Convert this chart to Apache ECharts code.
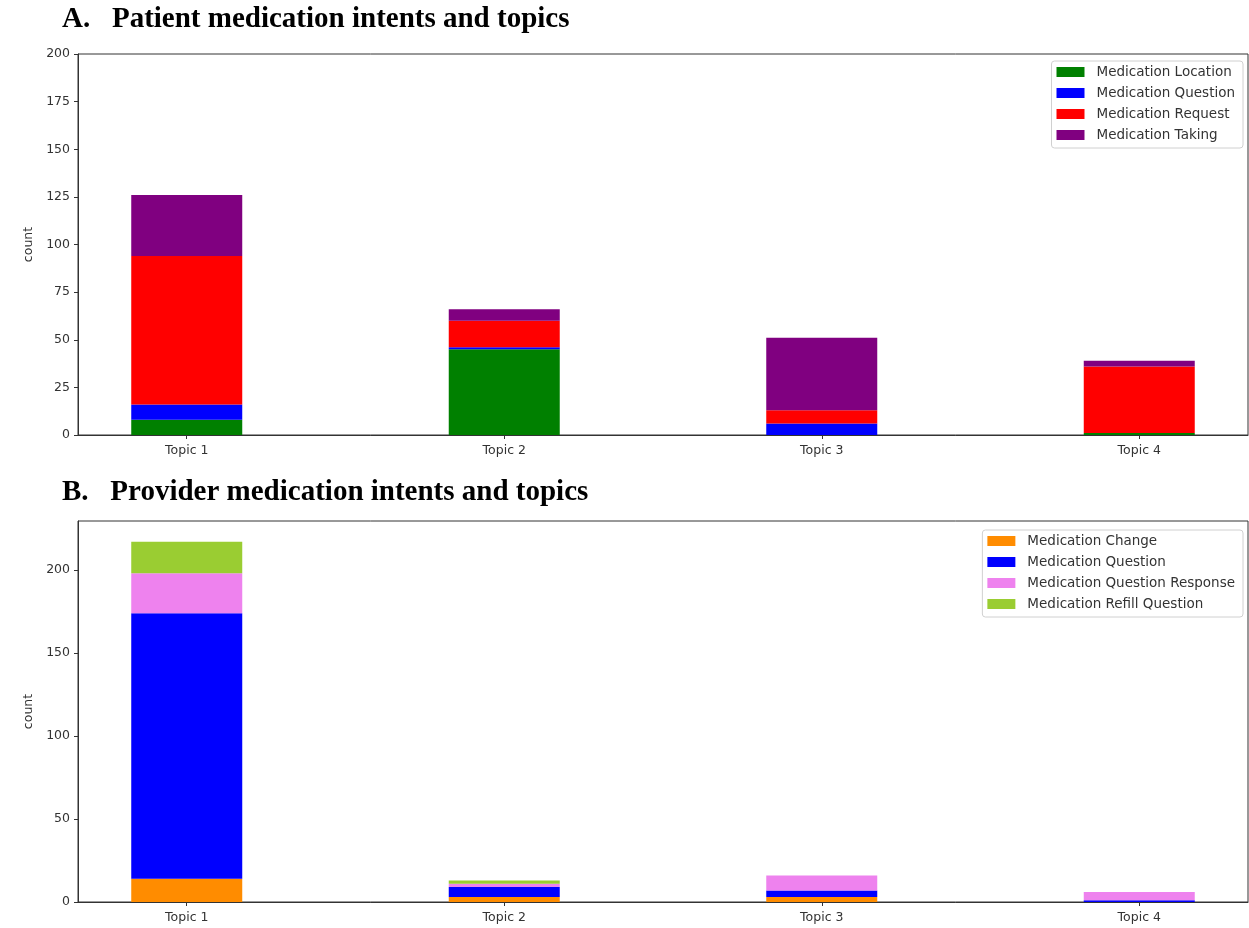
<!DOCTYPE html>
<html>
<head>
<meta charset="utf-8">
<script src="https://cdn.jsdelivr.net/npm/echarts@6/dist/echarts.min.js"></script>
<style>
html,body{margin:0;padding:0;background:#fff;}
#main{width:1249px;height:928px;}
</style>
</head>
<body>
<div id="main"></div>
<script>
const topics = ['Topic 1', 'Topic 2', 'Topic 3', 'Topic 4'];

const patientNames = ['Medication Location', 'Medication Question', 'Medication Request', 'Medication Taking'];
const patientLocation = [8, 45, 0, 1];
const patientQuestion = [8, 1, 6, 0];
const patientRequest = [78, 14, 7, 35];
const patientTaking = [32, 6, 38, 3];
const patientColors = ['#008000', '#0000ff', '#ff0000', '#800080'];
const patientTicks = [0, 25, 50, 75, 100, 125, 150, 175, 200];

const providerNames = ['Medication Change', 'Medication Question', 'Medication Question Response', 'Medication Refill Question'];
const providerChange = [14, 3, 3, 0];
const providerQuestion = [160, 6, 4, 1];
const providerResponse = [24, 2, 9, 5];
const providerRefill = [19, 2, 0, 0];
const providerColors = ['#ff8c00', '#0000ff', '#ee82ee', '#9acd32'];
const providerTicks = [0, 50, 100, 150, 200];

const topicIdx = topics.map((t, i) => i);
const font = 'DejaVu Sans';
const labelColor = '#333';

function xAxisFor(gi) {
  return {
    type: 'value', gridIndex: gi, min: -0.3425, max: 3.3425,
    axisLine: {show: true, onZero: false, lineStyle: {color: '#333', width: 1}},
    axisTick: {show: true, length: 4, customValues: topicIdx, lineStyle: {color: '#333'}},
    axisLabel: {customValues: topicIdx, formatter: v => topics[Math.round(v)], fontFamily: font, fontSize: 12.5, color: labelColor, margin: 9},
    splitLine: {show: false}
  };
}
function yAxisFor(gi, max, ticks) {
  return {
    type: 'value', gridIndex: gi, min: 0, max: max,
    name: 'count', nameLocation: 'middle', nameGap: 42,
    nameTextStyle: {fontFamily: font, fontSize: 12.5, color: labelColor},
    axisLine: {show: true, onZero: false, lineStyle: {color: '#333', width: 1}},
    axisTick: {show: true, length: 4, customValues: ticks, lineStyle: {color: '#333'}},
    axisLabel: {customValues: ticks, fontFamily: font, fontSize: 12.5, color: labelColor, margin: 8},
    splitLine: {show: false}
  };
}
function series(name, vals, color, gi, stack) {
  return {
    type: 'bar', name: name, stack: stack, xAxisIndex: gi, yAxisIndex: gi,
    barWidth: 111, itemStyle: {color: color},
    encode: {x: 1, y: 0},
    data: vals.map((v, i) => [v, i]),
    animation: false
  };
}
function legendFor(names, top, right) {
  return {
    data: names, orient: 'vertical', right: right, top: top,
    icon: 'rect', itemWidth: 28, itemHeight: 10, itemGap: 7,
    padding: [4, 8, 6, 5],
    borderColor: '#d0d0d0', borderWidth: 1, borderRadius: 3,
    textStyle: {fontFamily: font, fontSize: 13.5, lineHeight: 14, color: labelColor, padding: [0, 0, 0, 7]},
    selectedMode: false
  };
}

const chart = echarts.init(document.getElementById('main'));
chart.setOption({
  animation: false,
  title: [
    {text: 'A.   Patient medication intents and topics', left: 57, top: 0,
     textStyle: {fontFamily: 'Liberation Serif', fontWeight: 'bold', fontSize: 29, color: '#000'}},
    {text: 'B.   Provider medication intents and topics', left: 57, top: 473,
     textStyle: {fontFamily: 'Liberation Serif', fontWeight: 'bold', fontSize: 29, color: '#000'}}
  ],
  grid: [
    {left: 78, right: 1, top: 54, height: 381, show: true, borderColor: '#333', borderWidth: 1},
    {left: 78, right: 1, top: 521, height: 381, show: true, borderColor: '#333', borderWidth: 1}
  ],
  legend: [legendFor(patientNames, 61, 6), legendFor(providerNames, 530, 6)],
  xAxis: [xAxisFor(0), xAxisFor(1)],
  yAxis: [yAxisFor(0, 200, patientTicks), yAxisFor(1, 229.5, providerTicks)],
  series: [
    series(patientNames[0], patientLocation, patientColors[0], 0, 'a'),
    series(patientNames[1], patientQuestion, patientColors[1], 0, 'a'),
    series(patientNames[2], patientRequest, patientColors[2], 0, 'a'),
    series(patientNames[3], patientTaking, patientColors[3], 0, 'a'),
    series(providerNames[0], providerChange, providerColors[0], 1, 'b'),
    series(providerNames[1], providerQuestion, providerColors[1], 1, 'b'),
    series(providerNames[2], providerResponse, providerColors[2], 1, 'b'),
    series(providerNames[3], providerRefill, providerColors[3], 1, 'b')
  ]
});
</script>
</body>
</html>
